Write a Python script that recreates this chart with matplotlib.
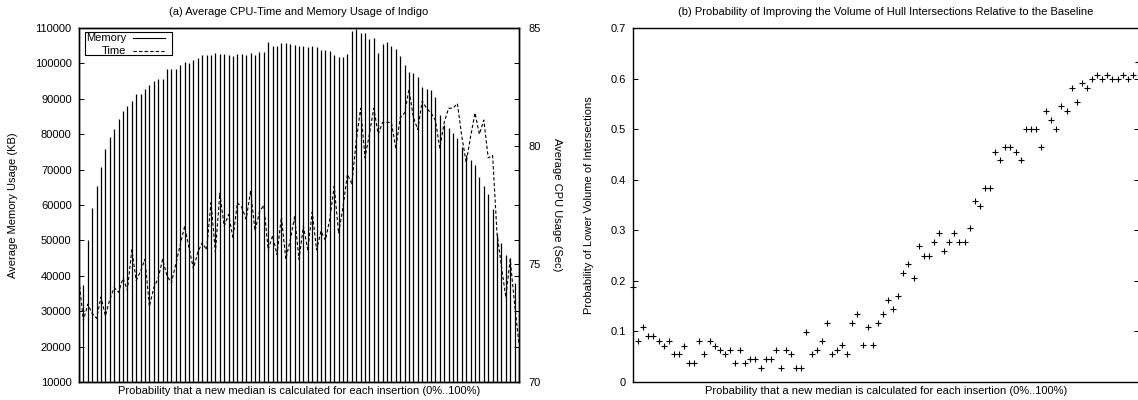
import numpy as np
import matplotlib
matplotlib.use("Agg")
import matplotlib.pyplot as plt
from matplotlib.patches import Rectangle
from matplotlib.ticker import MultipleLocator, FormatStrFormatter

plt.rcParams['font.family'] = ['Liberation Sans', 'DejaVu Sans']
plt.rcParams['font.size'] = 8

# ------------------------------
# data (0%..100%, one value per step)
# ------------------------------
memory_kb = [
    22000, 37400, 50100, 59100, 65400, 70800, 75800, 79100, 81600, 84200,
    86500, 88000, 89300, 91300, 91300, 92700, 93900, 95000, 95600, 95600,
    98400, 98400, 98300, 99600, 100300, 100200, 101100, 101400, 102400, 102300,
    102400, 102800, 102700, 102600, 102500, 102000, 102700, 102700, 102400, 102800,
    102500, 103300, 103300, 106100, 104800, 104900, 105800, 105800, 105600, 105200,
    104900, 105000, 104600, 104900, 104600, 103800, 103900, 103600, 102400, 101900,
    101900, 102650, 109200, 109600, 108500, 108500, 107000, 107300, 102850, 105400,
    106000, 105000, 104100, 102200, 99550, 97650, 97400, 96100, 93300, 92800,
    92500, 90500, 85400, 82700, 81700, 80300, 79000, 76500, 74100, 72600,
    71200, 67800, 65300, 63000, 59000, 51800, 49200, 45900, 44900, 37900,
    20000,
]

cpu_time_sec = [
    74.3, 72.6, 73.3, 72.9, 72.7, 73.6, 72.8, 73.5, 74.0, 73.8,
    74.4, 73.9, 75.6, 74.3, 74.7, 75.2, 73.2, 74.0, 74.4, 75.2,
    74.5, 74.2, 75.0, 75.8, 76.6, 75.7, 74.8, 75.5, 75.9, 75.6,
    77.6, 75.5, 78.0, 76.6, 77.1, 76.1, 77.6, 77.4, 76.9, 78.1,
    76.4, 77.2, 77.5, 75.6, 76.2, 75.4, 77.0, 75.2, 76.0, 77.0,
    75.2, 76.6, 75.6, 77.2, 75.6, 76.4, 76.0, 76.9, 78.3, 76.3,
    77.4, 78.8, 78.4, 80.2, 81.6, 79.5, 80.5, 81.6, 80.5, 81.0,
    81.0, 81.0, 79.9, 81.2, 81.4, 82.4, 81.2, 80.7, 81.9, 81.6,
    81.4, 81.1, 79.9, 81.0, 81.6, 81.6, 81.8, 80.4, 79.3, 80.4,
    81.4, 80.5, 81.1, 79.5, 79.6, 76.3, 74.9, 73.6, 75.2, 73.3,
    71.6,
]

p_lower_volume = [
    0.188, 0.081, 0.108, 0.091, 0.091, 0.081, 0.072, 0.081, 0.055, 0.055,
    0.072, 0.037, 0.037, 0.081, 0.055, 0.081, 0.072, 0.064, 0.055, 0.064,
    0.037, 0.064, 0.037, 0.045, 0.045, 0.027, 0.045, 0.045, 0.064, 0.027,
    0.064, 0.055, 0.027, 0.027, 0.099, 0.055, 0.064, 0.081, 0.117, 0.055,
    0.064, 0.073, 0.055, 0.117, 0.134, 0.073, 0.108, 0.073, 0.117, 0.134,
    0.162, 0.144, 0.171, 0.215, 0.233, 0.206, 0.268, 0.250, 0.250, 0.277,
    0.295, 0.260, 0.277, 0.295, 0.277, 0.277, 0.304, 0.358, 0.349, 0.384,
    0.384, 0.455, 0.438, 0.465, 0.465, 0.455, 0.438, 0.500, 0.500, 0.500,
    0.465, 0.536, 0.518, 0.500, 0.546, 0.536, 0.581, 0.554, 0.591, 0.581,
    0.599, 0.608, 0.599, 0.608, 0.599, 0.599, 0.608, 0.599, 0.608, 0.633,
]

xlabel = "Probability that a new median is calculated for each insertion (0%..100%)"
W, H = 1138, 400
TITLE_SIZE = 8

fig = plt.figure(figsize=(W / 100, H / 100), dpi=100)


def style_spines(a):
    for s in a.spines.values():
        s.set_linewidth(1.0)


# ==============================
# (a) memory impulses + cpu time
# ==============================
ax = fig.add_axes([79 / W, 18 / H, 440 / W, 354 / H])
x = np.arange(len(memory_kb))
ax.vlines(x, 10000, memory_kb, color='black', lw=0.9)
ax.set_xlim(0, 100)
ax.set_ylim(10000, 110000)
ax.yaxis.set_major_locator(MultipleLocator(10000))
ax.set_xticks([])
ax.set_title("(a) Average CPU-Time and Memory Usage of Indigo",
             fontsize=TITLE_SIZE, pad=9.5)
ax.set_xlabel(xlabel, labelpad=3)
ax.set_ylabel("Average Memory Usage (KB)")
ax.yaxis.set_label_coords(-0.139, 0.5)
style_spines(ax)

ax2 = ax.twinx()
ax2.plot(x, cpu_time_sec, color='black', lw=0.8, dashes=(3, 2))
ax2.set_xlim(0, 100)
ax2.set_ylim(70, 85)
ax2.yaxis.set_major_locator(MultipleLocator(5))
ax2.tick_params(axis='y', direction='in', length=3.6, width=0.7, pad=6.5)
ax2.set_ylabel("Average CPU Usage (Sec)", rotation=270, va='bottom')
ax2.yaxis.set_label_coords(1.074, 0.5)
style_spines(ax2)

ax.tick_params(axis='y', direction='in', length=3.6, width=0.7,
               left=True, right=True, labelright=False, pad=5.3)

# gnuplot style key, text right-justified before the sample
ax2.add_patch(Rectangle((0.0136, 0.9237), 0.1971, 0.0642, transform=ax2.transAxes,
                        facecolor='white', edgecolor='black', lw=0.8, zorder=5))
ax2.text(0.108, 0.971, "Memory", ha='right', va='center',
         transform=ax2.transAxes, zorder=6)
ax2.plot([0.1227, 0.1955], [0.971, 0.971], transform=ax2.transAxes,
         color='black', lw=0.8, zorder=6)
ax2.text(0.108, 0.936, "Time", ha='right', va='center',
         transform=ax2.transAxes, zorder=6)
ax2.plot([0.1227, 0.1955], [0.936, 0.936], transform=ax2.transAxes,
         color='black', lw=0.8, dashes=(3, 2), zorder=6)

# ==============================
# (b) probability of lower volume
# ==============================
bx = fig.add_axes([633 / W, 18 / H, 506 / W, 354 / H])
xb = np.arange(len(p_lower_volume))
bx.plot(xb, p_lower_volume, linestyle='none', marker='+', color='black',
        ms=5, mew=0.8, clip_on=False)
bx.set_xlim(0, 99.2)
bx.set_ylim(0, 0.7)
bx.yaxis.set_major_locator(MultipleLocator(0.1))
bx.yaxis.set_major_formatter(FormatStrFormatter('%g'))
bx.set_xticks([])
bx.tick_params(axis='y', direction='in', length=3.6, width=0.7,
               left=True, right=True, pad=5)
bx.set_title("(b) Probability of Improving the Volume of Hull Intersections "
             "Relative to the Baseline", fontsize=TITLE_SIZE, pad=9.5)
bx.set_xlabel(xlabel, labelpad=3)
bx.set_ylabel("Probability of Lower Volume of Intersections")
bx.yaxis.set_label_coords(-0.0775, 0.5)
style_spines(bx)

fig.savefig("out.png", dpi=100)
